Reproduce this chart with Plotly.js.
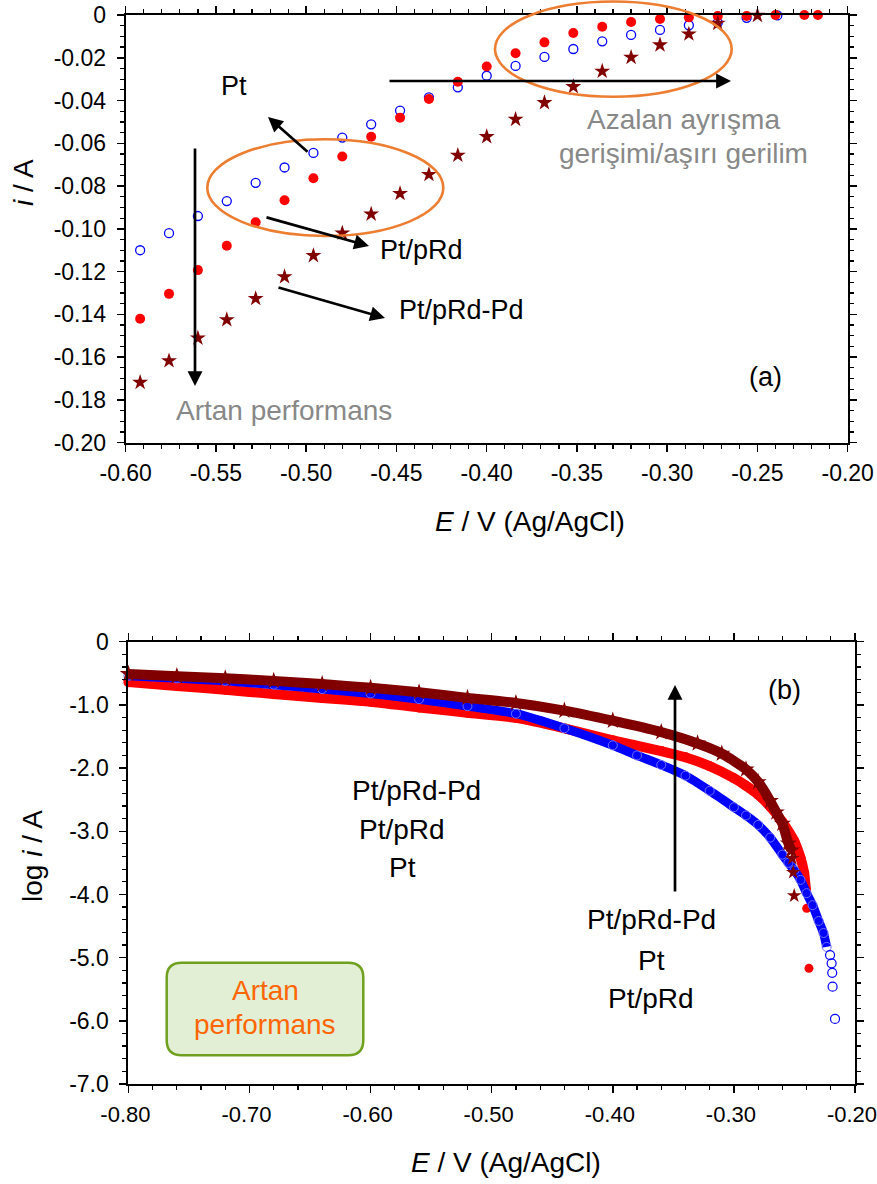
<!DOCTYPE html>
<html>
<head>
<meta charset="utf-8">
<script src="https://cdn.plot.ly/plotly-3.0.1.min.js"></script>
<style>
  html, body { margin: 0; padding: 0; background: #fff; }
  #chart { width: 877px; height: 1184px; }
</style>
</head>
<body>
<div id="chart"></div>
<script>
// ---------- (a) cathodic polarization: E / V vs i / A ----------
const ptE   = [-0.592,-0.576,-0.560,-0.544,-0.528,-0.512,-0.496,-0.480,-0.464,-0.448,-0.432,-0.416,-0.400,-0.384,-0.368,-0.352,-0.336,-0.320,-0.304,-0.288,-0.272,-0.256,-0.239];
const ptI   = [-0.110,-0.102,-0.094,-0.087,-0.0785,-0.0713,-0.0645,-0.0573,-0.0511,-0.0447,-0.0385,-0.0338,-0.0284,-0.0238,-0.0196,-0.0159,-0.0123,-0.0093,-0.0070,-0.0048,-0.0036,-0.0013,-0.0002];

const rdE   = [-0.592,-0.576,-0.560,-0.544,-0.528,-0.512,-0.496,-0.480,-0.464,-0.448,-0.432,-0.416,-0.400,-0.384,-0.368,-0.352,-0.336,-0.320,-0.304,-0.288,-0.272,-0.256,-0.240,-0.224,-0.2165];
const rdI   = [-0.142,-0.1304,-0.1193,-0.1079,-0.0969,-0.0866,-0.0763,-0.0662,-0.0569,-0.0480,-0.0393,-0.0312,-0.0241,-0.0179,-0.0128,-0.0084,-0.0055,-0.0033,-0.0019,-0.0011,-0.0005,-0.0005,0.0000,0.0000,0.0000];

const pdE   = [-0.592,-0.576,-0.560,-0.544,-0.528,-0.512,-0.496,-0.480,-0.464,-0.448,-0.432,-0.416,-0.400,-0.384,-0.368,-0.352,-0.336,-0.320,-0.304,-0.288,-0.272,-0.250];
const pdI   = [-0.1718,-0.1617,-0.1511,-0.1425,-0.1326,-0.1224,-0.1125,-0.1020,-0.0931,-0.0835,-0.0746,-0.0656,-0.0569,-0.0488,-0.0410,-0.0335,-0.0263,-0.0198,-0.0140,-0.0089,-0.0039,-0.0002];

// ---------- (b) Tafel plot: E / V vs log i / A ----------
const ptLogE = [-0.80,-0.76,-0.72,-0.68,-0.64,-0.60,-0.56,-0.52,-0.48,-0.44,-0.40,-0.38,-0.36,-0.34,-0.32,-0.30,-0.29,-0.28,-0.27,-0.26,-0.255,-0.25,-0.245,-0.24,-0.235,-0.23,-0.226,-0.2234];
const ptLogI = [-0.54,-0.58,-0.62,-0.68,-0.75,-0.82,-0.91,-1.02,-1.14,-1.37,-1.64,-1.80,-1.95,-2.12,-2.36,-2.62,-2.75,-2.90,-3.10,-3.37,-3.50,-3.62,-3.77,-3.98,-4.17,-4.42,-4.61,-4.83];
const ptTailE = [-0.2206,-0.2193,-0.2188,-0.2185,-0.2165];
const ptTailI = [-4.96,-5.09,-5.24,-5.46,-5.97];

const rdLogE = [-0.80,-0.76,-0.72,-0.68,-0.64,-0.60,-0.56,-0.52,-0.48,-0.44,-0.40,-0.36,-0.34,-0.32,-0.30,-0.29,-0.28,-0.27,-0.26,-0.25,-0.245,-0.242,-0.2405];
const rdLogI = [-0.64,-0.70,-0.76,-0.83,-0.89,-0.95,-1.04,-1.125,-1.205,-1.37,-1.56,-1.73,-1.83,-1.97,-2.16,-2.28,-2.42,-2.61,-2.85,-3.16,-3.42,-3.66,-3.93];
const rdTailE = [-0.2399,-0.2380];
const rdTailI = [-4.22,-5.17];

const pdLogE = [-0.80,-0.76,-0.72,-0.68,-0.64,-0.60,-0.56,-0.52,-0.48,-0.44,-0.40,-0.36,-0.33,-0.31,-0.29,-0.28,-0.27,-0.265,-0.26,-0.255,-0.2525];
const pdLogI = [-0.51,-0.545,-0.58,-0.62,-0.67,-0.73,-0.80,-0.89,-0.97,-1.09,-1.25,-1.43,-1.61,-1.77,-2.02,-2.22,-2.52,-2.70,-2.88,-3.19,-3.30];
const pdTailE = [-0.2518,-0.2510,-0.2502];
const pdTailI = [-3.43,-3.65,-4.02];

// tick labels
const aTickE = [-0.60,-0.55,-0.50,-0.45,-0.40,-0.35,-0.30,-0.25,-0.20];
const aTickELabels = ['-0.60','-0.55','-0.50','-0.45','-0.40','-0.35','-0.30','-0.25','-0.20'];
const aTickI = [0,-0.02,-0.04,-0.06,-0.08,-0.10,-0.12,-0.14,-0.16,-0.18,-0.20];
const aTickILabels = ['0','-0.02','-0.04','-0.06','-0.08','-0.10','-0.12','-0.14','-0.16','-0.18','-0.20'];
const bTickE = [-0.80,-0.70,-0.60,-0.50,-0.40,-0.30,-0.20];
const bTickELabels = ['-0.80','-0.70','-0.60','-0.50','-0.40','-0.30','-0.20'];
const bTickI = [0,-1,-2,-3,-4,-5,-6,-7];
const bTickILabels = ['0','-1.0','-2.0','-3.0','-4.0','-5.0','-6.0','-7.0'];

// ---------- page geometry helpers (pixel -> paper) ----------
const W = 877, H = 1184;
const X = p => p / W;
const Y = p => 1 - p / H;

const SANS = '"Liberation Sans", Arial, Helvetica, sans-serif';
const NARROW = '"Liberation Sans Narrow", "Arial Narrow", "Liberation Sans", Arial, sans-serif';
const BLUE = '#0000ff', RED = '#ff0000', MAROON = '#800000';
const ORANGE = '#ed7d31', GRAY = '#888888';

function axis(domain, anchor, range, vals, labels, minorStep, standoff, extra) {
  const ax = {
    domain: domain, anchor: anchor, range: range,
    tickmode: 'array', tickvals: vals, ticktext: labels,
    ticks: 'outside', ticklen: 7, tickwidth: 1.5, tickcolor: '#000',
    minor: { tickmode: 'linear', tick0: 0, dtick: minorStep, ticks: 'outside', ticklen: 4, tickwidth: 1.2, tickcolor: '#000', showgrid: false },
    showline: true, linewidth: 2, linecolor: '#000', mirror: 'allticks',
    showgrid: false, zeroline: false, fixedrange: true,
    ticklabelstandoff: standoff, ticklabeloverflow: 'allow',
    tickfont: { family: NARROW, size: 23, color: '#000' }
  };
  return Object.assign(ax, extra || {});
}

function arrow(tipX, tipY, tailX, tailY) {
  return {
    xref: 'paper', yref: 'paper', x: X(tipX), y: Y(tipY),
    ax: tailX - tipX, ay: tailY - tipY,
    text: '', showarrow: true, arrowhead: 2, arrowsize: 1.1, arrowwidth: 2.7,
    arrowcolor: '#000', standoff: 0, startstandoff: 0
  };
}

function label(text, x, y, opts) {
  const o = opts || {};
  return {
    xref: 'paper', yref: 'paper', x: X(x), y: Y(y), text: text,
    showarrow: false, xanchor: o.xanchor || 'center', yanchor: 'middle',
    textangle: o.angle || 0,
    font: { family: SANS, size: o.size || 27, color: o.color || '#000' }
  };
}

function roundRect(x0, y0, x1, y1, r) {
  const P = (x, y) => X(x) + ',' + Y(y);
  return 'M' + P(x0 + r, y0) + ' L' + P(x1 - r, y0) + ' Q' + P(x1, y0) + ' ' + P(x1, y0 + r) +
         ' L' + P(x1, y1 - r) + ' Q' + P(x1, y1) + ' ' + P(x1 - r, y1) +
         ' L' + P(x0 + r, y1) + ' Q' + P(x0, y1) + ' ' + P(x0, y1 - r) +
         ' L' + P(x0, y0 + r) + ' Q' + P(x0, y0) + ' ' + P(x0 + r, y0) + ' Z';
}

// ---------- traces ----------
const traces = [
  // (a)
  { x: ptE, y: ptI, xaxis: 'x', yaxis: 'y', mode: 'markers', name: 'Pt', cliponaxis: false,
    marker: { symbol: 'circle-open', size: 9, color: BLUE, line: { width: 1.3, color: BLUE } } },
  { x: rdE, y: rdI, xaxis: 'x', yaxis: 'y', mode: 'markers', name: 'Pt/pRd', cliponaxis: false,
    marker: { symbol: 'circle', size: 10, color: RED } },
  { x: pdE, y: pdI, xaxis: 'x', yaxis: 'y', mode: 'markers', name: 'Pt/pRd-Pd', cliponaxis: false,
    marker: { symbol: 'star', size: 12, color: MAROON, line: { width: 0 } } },

  // (b)
  { x: rdLogE, y: rdLogI, xaxis: 'x2', yaxis: 'y2', mode: 'lines+markers', name: 'Pt/pRd', cliponaxis: false,
    line: { color: RED, width: 10, shape: 'spline', smoothing: 0.5 },
    marker: { symbol: 'circle', size: 10, color: RED } },
  { x: rdTailE, y: rdTailI, xaxis: 'x2', yaxis: 'y2', mode: 'markers', name: 'Pt/pRd', cliponaxis: false,
    marker: { symbol: 'circle', size: 9, color: RED } },
  { x: ptLogE, y: ptLogI, xaxis: 'x2', yaxis: 'y2', mode: 'lines+markers', name: 'Pt', cliponaxis: false,
    line: { color: BLUE, width: 9, shape: 'spline', smoothing: 0.5 },
    marker: { symbol: 'circle-open', size: 9, color: '#6f6fff', line: { width: 1, color: '#6f6fff' } } },
  { x: ptTailE, y: ptTailI, xaxis: 'x2', yaxis: 'y2', mode: 'markers', name: 'Pt', cliponaxis: false,
    marker: { symbol: 'circle-open', size: 9, color: BLUE, line: { width: 1.2, color: BLUE } } },
  { x: pdLogE, y: pdLogI, xaxis: 'x2', yaxis: 'y2', mode: 'lines+markers', name: 'Pt/pRd-Pd', cliponaxis: false,
    line: { color: MAROON, width: 10, shape: 'spline', smoothing: 0.5 },
    marker: { symbol: 'star', size: 13, color: MAROON } },
  { x: pdTailE, y: pdTailI, xaxis: 'x2', yaxis: 'y2', mode: 'markers', name: 'Pt/pRd-Pd', cliponaxis: false,
    marker: { symbol: 'star', size: 11, color: MAROON } }
];

// ---------- layout ----------
const layout = {
  width: W, height: H,
  margin: { l: 0, r: 0, t: 0, b: 0, pad: 0 },
  paper_bgcolor: '#fff', plot_bgcolor: 'rgba(0,0,0,0)',
  showlegend: false,
  font: { family: SANS, color: '#000' },
  xaxis:  axis([X(125.7), X(847.7)], 'y',  [-0.60, -0.20], aTickE, aTickELabels, 0.01, 2),
  yaxis:  axis([Y(442.7), Y(15)],    'x',  [-0.20, 0],     aTickI, aTickILabels, 0.005, 6),
  xaxis2: axis([X(128.4), X(855)],   'y2', [-0.80, -0.20], bTickE, bTickELabels, 0.02, 3,
               { ticklabelshift: -3, tickfont: { family: NARROW, size: 22, color: '#000' } }),
  yaxis2: axis([Y(1084), Y(641.7)],  'x2', [-7, 0],        bTickI, bTickILabels, 0.2, 6),
  shapes: [
    { type: 'circle', xref: 'paper', yref: 'paper', x0: X(207.3), x1: X(443.3), y0: Y(236), y1: Y(139.3),
      line: { color: ORANGE, width: 2.6 } },
    { type: 'circle', xref: 'paper', yref: 'paper', x0: X(495), x1: X(731.7), y0: Y(96.7), y1: Y(1.5),
      line: { color: ORANGE, width: 2.6 } },
    { type: 'path', xref: 'paper', yref: 'paper', path: roundRect(166.7, 962.7, 363.3, 1055.3, 15),
      fillcolor: '#e2efd5', line: { color: '#6fa020', width: 2.5 }, layer: 'above' }
  ],
  annotations: [
    // axis titles
    label('<i>i</i> / A', 24, 183, { angle: -90, size: 28 }),
    label('<i>E</i> / V (Ag/AgCl)', 530, 521, { size: 28 }),
    label('log <i>i</i> / A', 32, 856, { angle: -90, size: 28 }),
    label('<i>E</i> / V (Ag/AgCl)', 506, 1162, { size: 28 }),

    // (a)
    arrow(268, 117, 309, 153),
    arrow(731, 81, 388, 81),
    arrow(195, 386, 195, 147),
    arrow(369, 246, 265, 217),
    arrow(385, 318, 277, 287),
    label('Pt', 234, 86),
    label('Pt/pRd', 378, 250, { xanchor: 'left' }),
    label('Pt/pRd-Pd', 397, 310, { xanchor: 'left' }),
    label('Azalan ayrışma', 683, 120, { color: GRAY, size: 28 }),
    label('gerişimi/aşırı gerilim', 683, 153, { color: GRAY, size: 28 }),
    label('Artan performans', 284, 410, { color: GRAY, size: 28 }),
    label('(a)', 765, 377),

    // (b)
    arrow(675, 685, 675, 893),
    label('(b)', 784, 690),
    label('Pt/pRd-Pd', 416, 790, { size: 28 }),
    label('Pt/pRd', 402, 829, { size: 28 }),
    label('Pt', 402, 867, { size: 28 }),
    label('Pt/pRd-Pd', 651, 920, { size: 28 }),
    label('Pt', 651, 960, { size: 28 }),
    label('Pt/pRd', 651, 998, { size: 28 }),
    label('Artan', 265, 990, { color: '#ff6600', size: 28 }),
    label('performans', 265, 1024, { color: '#ff6600', size: 28 })
  ]
};

Plotly.newPlot('chart', traces, layout, { displayModeBar: false, staticPlot: true });
</script>
</body>
</html>
